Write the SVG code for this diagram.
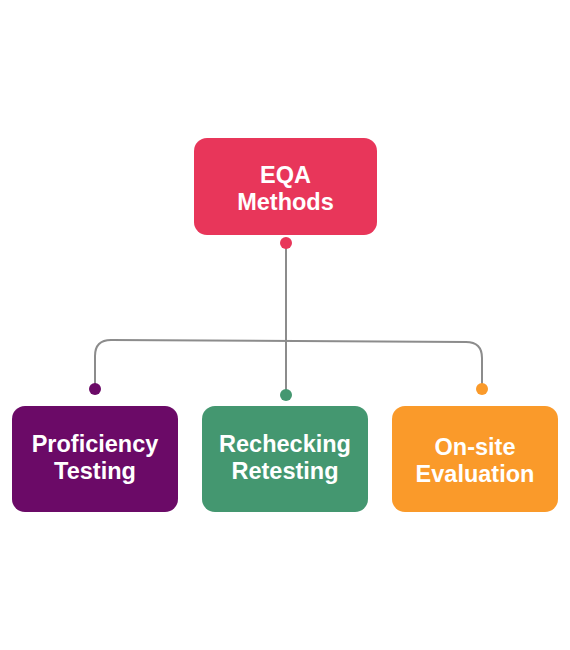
<svg xmlns="http://www.w3.org/2000/svg" width="570" height="650" viewBox="0 0 570 650">
<style>
.lbl{font-family:"Liberation Sans",Arial,sans-serif;font-weight:bold;font-size:23.5px;fill:#fff;text-anchor:middle}
.ln{fill:none;stroke:#8c8c8c;stroke-width:2}
</style>
<rect width="570" height="650" fill="#fff"/>
<g id="connectors">
<path class="ln" d="M286,243 L286,395"/>
<path class="ln" d="M95,389 L95,356 Q95,340 111,340 L466,342 Q482,342 482,358 L482,389"/>
<circle cx="286" cy="243" r="6" fill="#E8365A"/>
<circle cx="95" cy="389" r="6" fill="#6B0A67"/>
<circle cx="286" cy="395" r="6" fill="#449770"/>
<circle cx="482" cy="389" r="6" fill="#FA9A2A"/>
</g>
<g id="eqa">
<rect x="194" y="138" width="183" height="97" rx="13" fill="#E8365A"/>
<text class="lbl" x="285.5" y="183">EQA</text>
<text class="lbl" x="285.5" y="210">Methods</text>
</g>
<g id="proficiency">
<rect x="12" y="406" width="166" height="106" rx="13" fill="#6B0A67"/>
<text class="lbl" x="95" y="452">Proficiency</text>
<text class="lbl" x="95" y="479">Testing</text>
</g>
<g id="rechecking">
<rect x="202" y="406" width="166" height="106" rx="13" fill="#449770"/>
<text class="lbl" x="285" y="452">Rechecking</text>
<text class="lbl" x="285" y="479">Retesting</text>
</g>
<g id="onsite">
<rect x="392" y="406" width="166" height="106" rx="13" fill="#FA9A2A"/>
<text class="lbl" x="475" y="455">On-site</text>
<text class="lbl" x="475" y="482">Evaluation</text>
</g>
</svg>
